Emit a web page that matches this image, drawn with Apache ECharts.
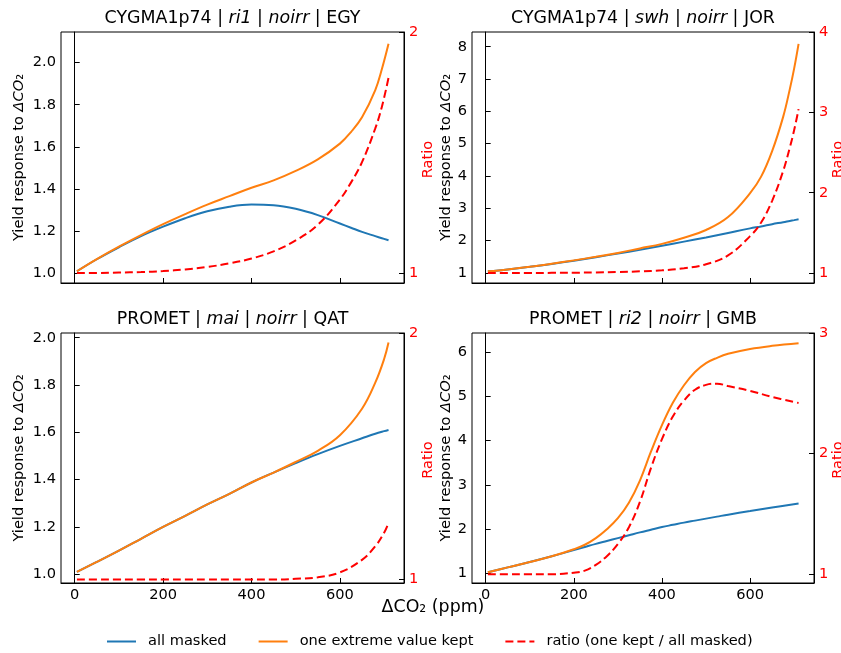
<!DOCTYPE html>
<html style="height: 100%">

<head>
  <meta charset="utf-8">
</head>

<body style="height: 100%; margin: 0; background: #fff">
  <div id="container" style="width: 841px; height: 653px"></div>
  <script type="text/javascript" src="https://cdn.jsdelivr.net/npm/echarts@6/dist/echarts.min.js"></script>
  <script type="text/javascript">
    // panel titles
    var titles = [
      'CYGMA1p74 | {i|ri1} | {i|noirr} | EGY',
      'CYGMA1p74 | {i|swh} | {i|noirr} | JOR',
      'PROMET | {i|mai} | {i|noirr} | QAT',
      'PROMET | {i|ri2} | {i|noirr} | GMB'
    ];

    // CYGMA1p74 ri1 EGY
    var xEGY = [5, 50, 100, 150, 200, 250, 300, 350, 400, 450, 500, 550, 600, 625, 650, 680, 695, 710];
    var maskedEGY = [1.008, 1.065, 1.122, 1.175, 1.22, 1.26, 1.293, 1.315, 1.325, 1.322, 1.305, 1.275, 1.235, 1.215, 1.195, 1.175, 1.165, 1.155];
    var keptEGY = [1.008, 1.066, 1.125, 1.18, 1.232, 1.28, 1.325, 1.365, 1.405, 1.44, 1.485, 1.54, 1.615, 1.67, 1.74, 1.87, 1.97, 2.09];
    var ratioEGY = [1.0, 1.0, 1.002, 1.004, 1.008, 1.015, 1.025, 1.04, 1.06, 1.09, 1.135, 1.2, 1.305, 1.375, 1.46, 1.6, 1.69, 1.81];

    // CYGMA1p74 swh JOR
    var xJOR = [5, 50, 100, 150, 200, 250, 300, 350, 400, 450, 500, 550, 600, 625, 650, 675, 690, 700, 710];
    var maskedJOR = [1.05, 1.11, 1.19, 1.28, 1.38, 1.49, 1.6, 1.72, 1.84, 1.97, 2.1, 2.24, 2.38, 2.44, 2.51, 2.57, 2.61, 2.635, 2.66];
    var keptJOR = [1.05, 1.11, 1.19, 1.285, 1.39, 1.5, 1.62, 1.76, 1.90, 2.09, 2.33, 2.73, 3.47, 3.98, 4.77, 5.83, 6.68, 7.33, 8.09];
    var ratioJOR = [1.0, 1.0, 1.0, 1.003, 1.005, 1.008, 1.013, 1.022, 1.035, 1.06, 1.11, 1.22, 1.46, 1.63, 1.9, 2.27, 2.56, 2.78, 3.04];

    // PROMET mai QAT
    var xQAT = [5, 50, 100, 150, 200, 250, 300, 350, 400, 450, 500, 550, 600, 650, 680, 700, 710];
    var maskedQAT = [1.01, 1.052, 1.10, 1.15, 1.20, 1.247, 1.295, 1.34, 1.388, 1.43, 1.47, 1.508, 1.543, 1.575, 1.594, 1.605, 1.61];
    var keptQAT = [1.01, 1.052, 1.10, 1.15, 1.20, 1.247, 1.295, 1.34, 1.388, 1.43, 1.475, 1.522, 1.588, 1.70, 1.81, 1.91, 1.98];
    var ratioQAT = [1.0, 1.0, 1.0, 1.0, 1.0, 1.0, 1.0, 1.0, 1.0, 1.0, 1.003, 1.009, 1.029, 1.08, 1.135, 1.19, 1.23];

    // PROMET ri2 GMB
    var xGMB = [5, 50, 100, 150, 200, 225, 250, 275, 300, 325, 350, 375, 400, 425, 450, 475, 500, 525, 550, 600, 650, 710];
    var maskedGMB = [1.03, 1.14, 1.26, 1.39, 1.53, 1.60, 1.67, 1.735, 1.80, 1.865, 1.93, 1.99, 2.05, 2.10, 2.15, 2.195, 2.24, 2.285, 2.33, 2.41, 2.49, 2.58];
    var keptGMB = [1.03, 1.14, 1.26, 1.39, 1.55, 1.65, 1.8, 2.0, 2.25, 2.6, 3.1, 3.75, 4.35, 4.86, 5.25, 5.55, 5.75, 5.87, 5.96, 6.07, 6.14, 6.2];
    var ratioGMB = [1.0, 1.0, 1.0, 1.0, 1.013, 1.03, 1.078, 1.15, 1.25, 1.39, 1.6, 1.88, 2.12, 2.31, 2.44, 2.53, 2.57, 2.58, 2.56, 2.52, 2.47, 2.42];

    var xTicks = [0, 200, 400, 600];
    var yieldTicks = [
      [1.0, 1.2, 1.4, 1.6, 1.8, 2.0],
      [1, 2, 3, 4, 5, 6, 7, 8],
      [1.0, 1.2, 1.4, 1.6, 1.8, 2.0],
      [1, 2, 3, 4, 5, 6]
    ];
    var ratioTicks = [[1, 2], [1, 2, 3, 4], [1, 2], [1, 2, 3]];

    var panels = [
      { x: xEGY, masked: maskedEGY, kept: keptEGY, ratio: ratioEGY, yMin: 0.952, yMax: 2.146, rMin: 0.9585, rMax: 2.0, dec: 1 },
      { x: xJOR, masked: maskedJOR, kept: keptJOR, ratio: ratioJOR, yMin: 0.69, yMax: 8.455, rMin: 0.877, rMax: 4.0, dec: 0 },
      { x: xQAT, masked: maskedQAT, kept: keptQAT, ratio: ratioQAT, yMin: 0.963, yMax: 2.02, rMin: 0.986, rMax: 2.0, dec: 1 },
      { x: xGMB, masked: maskedGMB, kept: keptGMB, ratio: ratioGMB, yMin: 0.787, yMax: 6.43, rMin: 0.9275, rMax: 3.0, dec: 0 }
    ];

    var boxes = [
      { left: 61, top: 32, width: 343, height: 251 },
      { left: 472, top: 32, width: 342, height: 251 },
      { left: 61, top: 333, width: 343, height: 250 },
      { left: 472, top: 333, width: 342, height: 250 }
    ];

    var FONT = 'DejaVu Sans';
    var FS = 14.6;
    var dom = document.getElementById("container");
    var myChart = echarts.init(dom, null, { renderer: 'canvas' });

    var grid = [], xAxis = [], yAxis = [], series = [], title = [], graphic = [];

    panels.forEach(function (p, i) {
      var b = boxes[i];
      grid.push({ left: b.left, top: b.top, width: b.width, height: b.height, show: true, borderColor: '#000', borderWidth: 1 });
      title.push({
        text: titles[i], left: b.left + b.width / 2, top: b.top - 22, textAlign: 'center', padding: 0,
        textStyle: {
          fontSize: 17.4, fontWeight: 'normal', color: '#000', fontFamily: FONT,
          rich: { i: { fontStyle: 'italic', fontSize: 17.4, color: '#000', fontFamily: FONT } }
        }
      });
      xAxis.push({
        type: 'value', gridIndex: i, min: -31, max: 745,
        splitLine: { show: false },
        axisLine: { lineStyle: { color: '#000' } },
        axisTick: { inside: true, length: 5, customValues: xTicks, lineStyle: { color: '#000' } },
        axisLabel: { show: i >= 2, customValues: xTicks, margin: 5, color: '#000', fontSize: FS, fontFamily: FONT }
      });
      yAxis.push({
        type: 'value', gridIndex: i, min: p.yMin, max: p.yMax, position: 'left',
        name: 'Yield response to {i|ΔCO}₂', nameLocation: 'middle', nameRotate: 90,
        nameGap: i % 2 === 0 ? 34 : 18,
        nameTextStyle: {
          fontSize: FS, color: '#000', fontFamily: FONT,
          rich: { i: { fontStyle: 'italic', fontSize: FS, color: '#000', fontFamily: FONT } }
        },
        splitLine: { show: false },
        axisLine: { show: true, lineStyle: { color: '#000' } },
        axisTick: { show: true, inside: true, length: 5, customValues: yieldTicks[i], lineStyle: { color: '#000' } },
        axisLabel: {
          customValues: yieldTicks[i], margin: 5, color: '#000', fontSize: FS, fontFamily: FONT,
          formatter: (function (d) { return function (v) { return v.toFixed(d); }; })(p.dec)
        }
      });
      yAxis.push({
        type: 'value', gridIndex: i, min: p.rMin, max: p.rMax, position: 'right',
        splitLine: { show: false },
        axisLine: { show: true, lineStyle: { color: '#000' } },
        axisTick: { show: true, inside: true, length: 5, customValues: ratioTicks[i], lineStyle: { color: '#000' } },
        axisLabel: { customValues: ratioTicks[i], margin: 5, color: 'red', fontSize: FS, fontFamily: FONT }
      });
      // "Ratio" name of the twin axis
      graphic.push({
        type: 'text', x: b.left + b.width + 24, y: b.top + b.height / 2 + 2, rotation: Math.PI / 2,
        style: { text: 'Ratio', fontSize: FS, fontFamily: FONT, fill: 'red', align: 'center', verticalAlign: 'middle' }
      });
      function pairs(ys) { return p.x.map(function (x, k) { return [x, ys[k]]; }); }
      series.push({
        name: 'all masked', type: 'line', xAxisIndex: i, yAxisIndex: 2 * i, data: pairs(p.masked),
        symbol: 'none', smooth: 0.4, lineStyle: { color: '#1f77b4', width: 2 }, itemStyle: { color: '#1f77b4' }
      });
      series.push({
        name: 'one extreme value kept', type: 'line', xAxisIndex: i, yAxisIndex: 2 * i, data: pairs(p.kept),
        symbol: 'none', smooth: 0.4, lineStyle: { color: '#ff7f0e', width: 2 }, itemStyle: { color: '#ff7f0e' }
      });
      series.push({
        name: 'ratio (one kept / all masked)', type: 'line', xAxisIndex: i, yAxisIndex: 2 * i + 1, data: pairs(p.ratio),
        symbol: 'none', smooth: 0.4, lineStyle: { color: 'red', width: 2, type: [8, 4] }, itemStyle: { color: 'red' }
      });
    });

    graphic.push({
      type: 'text', x: 433, y: 607,
      style: { text: 'ΔCO₂ (ppm)', fontSize: 17.4, fontFamily: FONT, fill: '#000', align: 'center', verticalAlign: 'middle' }
    });

    var option = {
      backgroundColor: '#fff',
      animation: false,
      title: title,
      grid: grid,
      xAxis: xAxis,
      yAxis: yAxis,
      series: series,
      legend: {
        data: ['all masked', 'one extreme value kept', 'ratio (one kept / all masked)'],
        left: 106, top: 634, padding: 0, itemWidth: 29, itemHeight: 16, itemGap: 31,
        itemStyle: { opacity: 0 },
        textStyle: { fontSize: FS, color: '#000', fontFamily: FONT, padding: [0, 0, 0, 7] }
      },
      graphic: graphic
    };
    myChart.setOption(option);
  </script>
</body>

</html>
